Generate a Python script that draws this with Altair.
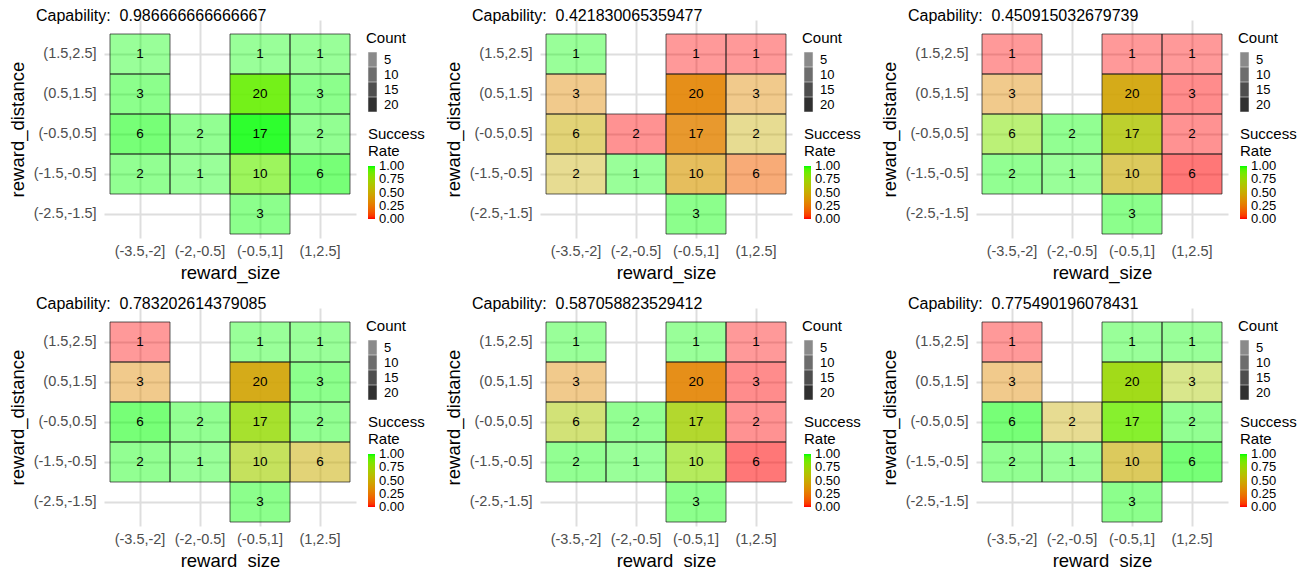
import altair as alt
import pandas as pd

FONT = "Liberation Sans"

x_labels = ["(-3.5,-2]", "(-2,-0.5]", "(-0.5,1]", "(1,2.5]"]
y_labels = ["(1.5,2.5]", "(0.5,1.5]", "(-0.5,0.5]", "(-1.5,-0.5]", "(-2.5,-1.5]"]

cell_x = ["(-3.5,-2]", "(-0.5,1]", "(1,2.5]",
          "(-3.5,-2]", "(-0.5,1]", "(1,2.5]",
          "(-3.5,-2]", "(-2,-0.5]", "(-0.5,1]", "(1,2.5]",
          "(-3.5,-2]", "(-2,-0.5]", "(-0.5,1]", "(1,2.5]",
          "(-0.5,1]"]
cell_y = ["(1.5,2.5]", "(1.5,2.5]", "(1.5,2.5]",
          "(0.5,1.5]", "(0.5,1.5]", "(0.5,1.5]",
          "(-0.5,0.5]", "(-0.5,0.5]", "(-0.5,0.5]", "(-0.5,0.5]",
          "(-1.5,-0.5]", "(-1.5,-0.5]", "(-1.5,-0.5]", "(-1.5,-0.5]",
          "(-2.5,-1.5]"]
counts = [1, 1, 1, 3, 20, 3, 6, 2, 17, 2, 2, 1, 10, 6, 3]

rates_1 = [1, 1, 1, 1, 0.9, 1, 1, 1, 1, 1, 1, 1, 0.9, 1, 1]
rates_2 = [1, 0, 0, 1/3, 0.3, 1/3, 0.5, 0, 5/17, 0.5, 0.5, 1, 0.4, 1/6, 1]
rates_3 = [0, 0, 0, 1/3, 0.45, 0, 5/6, 1, 11/17, 0, 1, 1, 0.5, 0, 1]
rates_4 = [0, 1, 1, 1/3, 0.45, 1, 1, 1, 13/17, 1, 1, 1, 0.7, 0.5, 1]
rates_5 = [1, 1, 0, 1/3, 0.3, 0, 2/3, 1, 12/17, 0, 1, 1, 0.8, 0, 1]
rates_6 = [0, 1, 1, 1/3, 0.75, 2/3, 1, 0.5, 15/17, 1, 1, 1, 0.5, 1, 1]

capability = ["0.986666666666667", "0.421830065359477", "0.450915032679739",
              "0.783202614379085", "0.587058823529412", "0.775490196078431"]

all_rates = [rates_1, rates_2, rates_3, rates_4, rates_5, rates_6]
rows = []
for p, rates in enumerate(all_rates):
    for cx, cy, n, r in zip(cell_x, cell_y, counts, rates):
        rows.append({"panel": p, "reward_size": cx, "reward_distance": cy,
                     "count": n, "rate": r})
df = pd.DataFrame(rows)

PLOT_W = 252
PLOT_H = 218


def panel(i):
    base = alt.Chart(df).transform_filter(alt.datum.panel == i)
    x = alt.X("reward_size:N",
              scale=alt.Scale(domain=x_labels, paddingInner=0, paddingOuter=0.1),
              axis=alt.Axis(title="reward_size", labelAngle=0, labelOverlap=False,
                            labelPadding=6, titlePadding=6))
    y = alt.Y("reward_distance:N",
              scale=alt.Scale(domain=y_labels, paddingInner=0, paddingOuter=0.225,
                              align=0.778),
              axis=alt.Axis(title="reward_distance", labelPadding=8, titlePadding=6))
    fill = base.mark_rect(strokeWidth=0).encode(
        x=x, y=y,
        color=alt.Color("rate:Q",
                        scale=alt.Scale(domain=[-0.0001, 1.0001],
                                        range=["#FF0000", "#00FF00"],
                                        interpolate="lab"),
                        legend=alt.Legend(title=["Success", "Rate"], orient="none",
                                          legendX=264, legendY=107,
                                          values=[0, 0.25, 0.5, 0.75, 1], format=".2f",
                                          gradientLength=53, gradientThickness=7,
                                          gradientStrokeWidth=0,
                                          labelOffset=4,
                                          labelOverlap=False, titlePadding=7,
                                          titleLineHeight=17)),
        opacity=alt.Opacity("count:Q",
                            scale=alt.Scale(domain=[1, 20], range=[0.4, 0.9]),
                            legend=alt.Legend(title="Count", orient="none",
                                              legendX=262, legendY=11,
                                              values=[5, 10, 15, 20],
                                              symbolType="M-0.7,-1.22H0.7V1.22H-0.7Z",
                                              symbolSize=132,
                                              symbolFillColor="#1a1a1a",
                                              symbolStrokeColor="#1a1a1a",
                                              symbolStrokeWidth=0.5,
                                              rowPadding=-2.5, labelOffset=5,
                                              titlePadding=7)),
    )
    border = base.mark_rect(filled=False, stroke="#1a1a1a", strokeWidth=0.7).encode(
        x=x, y=y)
    text = base.mark_text(fontSize=13.5, font=FONT, color="black", opacity=1).encode(
        x=x, y=y, text="count:Q")
    return alt.layer(fill, border, text).properties(
        width=PLOT_W, height=PLOT_H,
        title=alt.TitleParams(text="Capability: \u00a0" + capability[i], anchor="start",
                              frame="group", dx=-68, dy=17, offset=0,
                              baseline="alphabetic", fontSize=16, font=FONT,
                              fontWeight="normal", color="black"))


chart = alt.concat(*[panel(i) for i in range(6)], columns=3,
                   spacing={"row": 70, "column": 184}, bounds="flush").resolve_scale(
    color="independent", opacity="independent").resolve_legend(
    color="independent", opacity="independent").properties(padding=0).configure_view(
    stroke=None).configure_axis(
    labelFont=FONT, labelFontSize=14.5, labelColor="#4D4D4D",
    titleFont=FONT, titleFontSize=18.5, titleFontWeight="normal", titleColor="black",
    domain=False, ticks=False, tickSize=0, grid=True, gridColor="#DEDEDE", gridWidth=2,
    zindex=0
).configure_legend(
    labelFont=FONT, labelFontSize=13, labelColor="black",
    titleFont=FONT, titleFontSize=15, titleFontWeight="normal", titleColor="black",
    padding=0, symbolBaseFillColor="#1a1a1a"
)

chart.save("out.html", embed_options={"renderer": "svg", "actions": False})
